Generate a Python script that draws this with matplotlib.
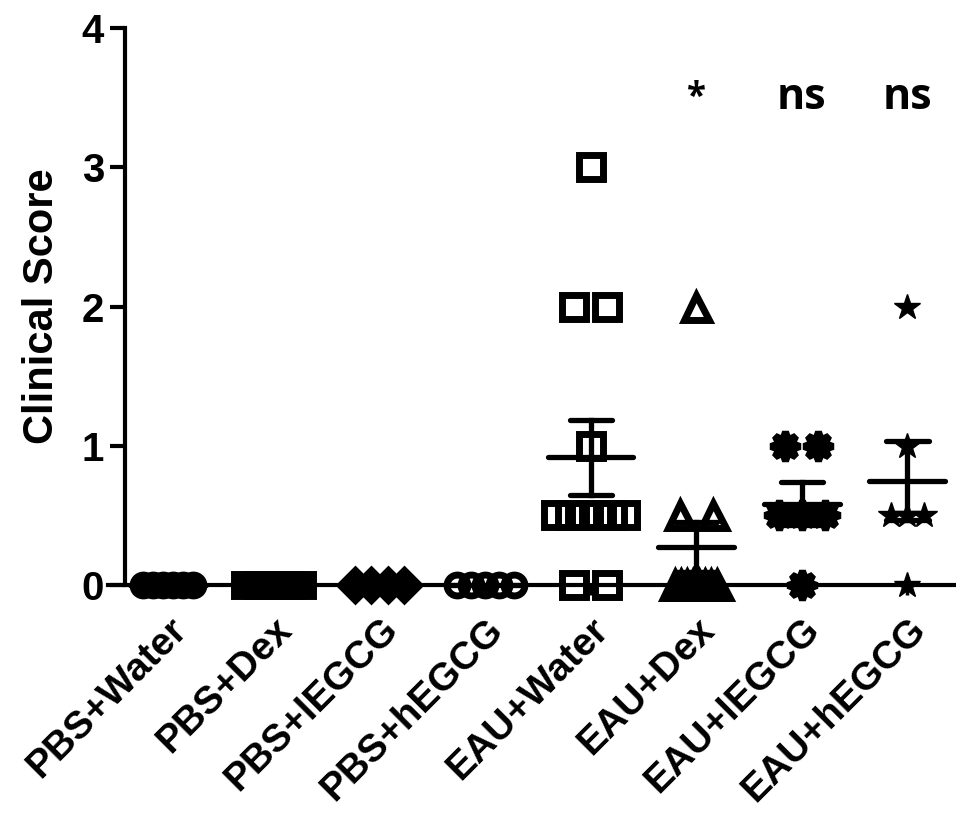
import numpy as np
import matplotlib
matplotlib.use("Agg")
import matplotlib.pyplot as plt

# groups and individual clinical scores
groups = ["PBS+Water", "PBS+Dex", "PBS+lEGCG", "PBS+hEGCG",
          "EAU+Water", "EAU+Dex", "EAU+lEGCG", "EAU+hEGCG"]
pbs_water = [0, 0, 0, 0, 0, 0]
pbs_dex = [0, 0, 0, 0, 0, 0]
pbs_legcg = [0, 0, 0, 0]
pbs_hegcg = [0, 0, 0, 0, 0]
eau_water = [3, 2, 2, 1, 0.5, 0.5, 0.5, 0.5, 0.5, 0.5, 0, 0]
eau_dex = [2, 0.5, 0.5, 0, 0, 0, 0, 0, 0, 0, 0]
eau_legcg = [1, 1, 0.5, 0.5, 0.5, 0]
eau_hegcg = [2, 1, 0.5, 0.5, 0.5, 0]
scores = [pbs_water, pbs_dex, pbs_legcg, pbs_hegcg,
          eau_water, eau_dex, eau_legcg, eau_hegcg]
sig_labels = ["", "", "", "", "", "*", "ns", "ns"]

# marker style per group
markers = ["o", "s", "D", "o", "s", "^", (8, 1, 0), "*"]
filled = [True, True, True, False, False, False, True, True]
msizes = [15, 16, 15, 15, 17, 18, 21, 19]
edges = [5, 5, 5, 5, 5, 5, 5, 1]
spread = [0.47, 0.54, 0.46, 0.54, 0.66, 0.40, 0.44, 0.31]

plt.rcParams["font.family"] = ["Liberation Sans", "DejaVu Sans"]
plt.rcParams["font.weight"] = "bold"

fig = plt.figure(figsize=(9.56, 8.27), dpi=100)
ax = fig.add_axes([108 / 956, 1 - 585 / 827, 847 / 956, 557 / 827])


def offsets(vals, width):
    # spread points with the same value side by side
    vals = np.asarray(vals, dtype=float)
    xo = np.zeros(len(vals))
    for v in np.unique(vals):
        idx = np.where(vals == v)[0]
        n = len(idx)
        if n > 1:
            step = min(0.31, width / (n - 1))
            xo[idx] = (np.arange(n) - (n - 1) / 2) * step
    return xo


for i, vals in enumerate(scores):
    vals = np.asarray(vals, dtype=float)
    xs = i + offsets(vals, spread[i])
    ax.plot(xs, vals, linestyle="none", marker=markers[i], ms=msizes[i],
            mfc="black" if filled[i] else "none", mec="black",
            mew=edges[i], clip_on=False, zorder=3)
    m = vals.mean()
    sem = vals.std(ddof=1) / np.sqrt(len(vals))
    mw = 0.8 if i == 4 else 0.72
    ax.plot([i - mw / 2, i + mw / 2], [m, m], color="black", lw=3.8,
            solid_capstyle="round", clip_on=False, zorder=4)
    if sem > 0:
        ax.plot([i, i], [m - sem, m + sem], color="black", lw=3.8,
                zorder=4)
        for y in (m - sem, m + sem):
            ax.plot([i - 0.2, i + 0.2], [y, y], color="black", lw=3.8,
                    solid_capstyle="round", zorder=4)
    if sig_labels[i]:
        ax.text(i, 3.5, sig_labels[i], ha="center", va="center",
                fontsize=31 if sig_labels[i] == "ns" else 25,
                family=["Open Sans", "DejaVu Sans"], fontweight="bold")

ax.set_xlim(-0.57, 7.45)
ax.set_ylim(0, 4)
ax.set_yticks([0, 1, 2, 3, 4])
ax.set_xticks(range(len(groups)))
ax.set_xticklabels(groups, rotation=45, ha="right", rotation_mode="anchor",
                   fontsize=28, fontweight="bold")
ax.tick_params(axis="x", length=7, width=2.5, pad=12)
ax.tick_params(axis="y", length=11, width=3, labelsize=29, pad=4)
for lab in ax.get_yticklabels():
    lab.set_fontweight("bold")
ax.set_ylabel("Clinical Score", fontsize=30, fontweight="bold", labelpad=14)

ax.spines["top"].set_visible(False)
ax.spines["right"].set_visible(False)
ax.spines["left"].set_position(("data", -0.41))
ax.spines["left"].set_linewidth(3)
ax.spines["bottom"].set_linewidth(3)
ax.spines["bottom"].set_zorder(2)

fig.savefig("out.png", dpi=100)
